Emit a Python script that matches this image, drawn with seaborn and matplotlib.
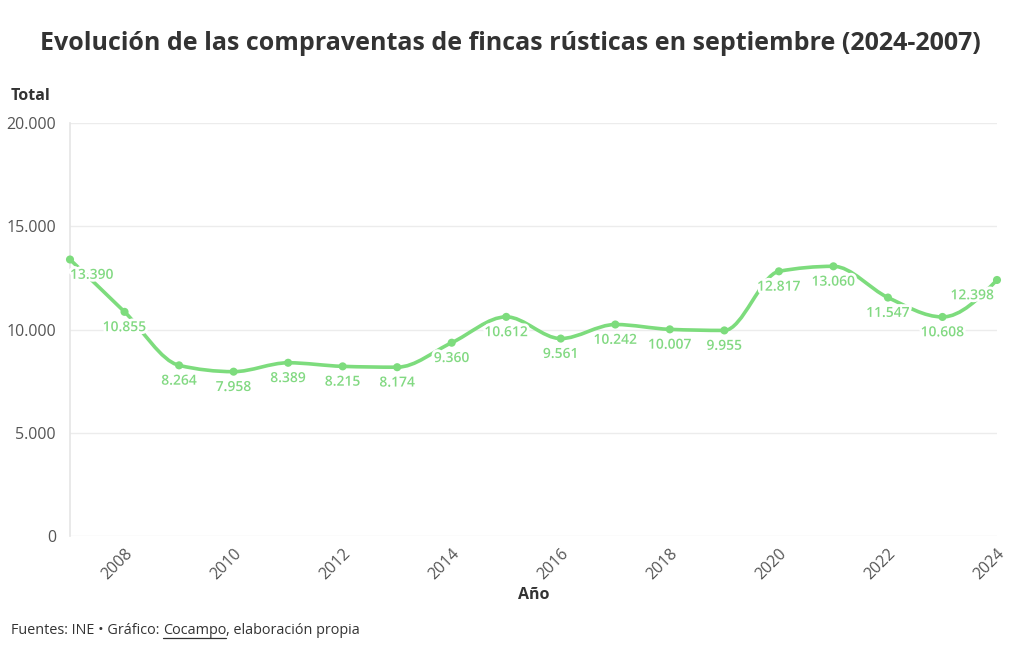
import matplotlib
matplotlib.use("Agg")
import matplotlib.pyplot as plt
import matplotlib.patheffects as pe
from matplotlib.path import Path
from matplotlib.patches import PathPatch
from matplotlib.ticker import FuncFormatter
import seaborn as sns
import numpy as np
import pandas as pd

# Compraventas de fincas rústicas en septiembre
years = [2007, 2008, 2009, 2010, 2011, 2012, 2013, 2014, 2015,
         2016, 2017, 2018, 2019, 2020, 2021, 2022, 2023, 2024]
totals = [13390, 10855, 8264, 7958, 8389, 8215, 8174, 9360, 10612,
          9561, 10242, 10007, 9955, 12817, 13060, 11547, 10608, 12398]
y_ticks = [0, 5000, 10000, 15000, 20000]
x_ticks = list(range(2008, 2025, 2))

df = pd.DataFrame({"Año": years, "Total": totals})

GREEN = "#7ddc7d"
LABEL_GREEN = "#82d982"
DARK = "#333333"
GREY = "#555555"


def fmt(v):
    return f"{int(v):,}".replace(",", ".")


def monotone_slopes(x, y):
    # same rule as d3.curveMonotoneX
    x = np.asarray(x, float)
    y = np.asarray(y, float)
    n = len(x)
    t = np.zeros(n)
    for i in range(1, n - 1):
        h0, h1 = x[i] - x[i - 1], x[i + 1] - x[i]
        s0, s1 = (y[i] - y[i - 1]) / h0, (y[i + 1] - y[i]) / h1
        p = (s0 * h1 + s1 * h0) / (h0 + h1)
        t[i] = (np.sign(s0) + np.sign(s1)) * min(abs(s0), abs(s1), 0.5 * abs(p))
    h = x[1] - x[0]
    t[0] = (3 * (y[1] - y[0]) / h - t[1]) / 2
    h = x[-1] - x[-2]
    t[-1] = (3 * (y[-1] - y[-2]) / h - t[-2]) / 2
    return t


sns.set_theme(style="white")
plt.rcParams["font.family"] = ["Open Sans", "DejaVu Sans"]

fig = plt.figure(figsize=(10.2, 6.5), dpi=100)
ax = fig.add_axes([70 / 1020, 1 - 536 / 650, 927 / 1020, 413 / 650])

# smooth curve built as cubic bezier segments through the data points
slopes = monotone_slopes(years, totals)
verts = [(years[0], totals[0])]
codes = [Path.MOVETO]
for i in range(len(years) - 1):
    h = (years[i + 1] - years[i]) / 3
    verts += [(years[i] + h, totals[i] + slopes[i] * h),
              (years[i + 1] - h, totals[i + 1] - slopes[i + 1] * h),
              (years[i + 1], totals[i + 1])]
    codes += [Path.CURVE4] * 3
ax.add_patch(PathPatch(Path(verts, codes), facecolor="none", edgecolor=GREEN,
                       linewidth=2.6, capstyle="round", zorder=2, clip_on=False))

sns.scatterplot(data=df, x="Año", y="Total", ax=ax, color=GREEN, s=34,
                edgecolor="none", zorder=3, legend=False, clip_on=False)

# value labels under each point, with white halo
for i, (yr, v) in enumerate(zip(years, totals)):
    ha = "center"
    dx = 0
    if i == 0:
        ha, dx = "left", 0
    elif i == len(years) - 1:
        ha, dx = "right", -2
    ax.annotate(fmt(v), (yr, v), xytext=(dx, -6), textcoords="offset points",
                ha=ha, va="top", fontsize=10, fontweight="semibold",
                color=LABEL_GREEN, zorder=4,
                path_effects=[pe.withStroke(linewidth=4, foreground="white")])

ax.set_xlim(2007, 2024)
ax.set_ylim(0, 20000)
ax.set_yticks(y_ticks)
ax.set_xticks(x_ticks)
ax.yaxis.set_major_formatter(FuncFormatter(lambda v, p: fmt(v)))
ax.grid(axis="y", color="#ececec", linewidth=1)
ax.grid(axis="x", visible=False)
for side in ["top", "right", "bottom"]:
    ax.spines[side].set_visible(False)
ax.spines["left"].set_color("#e6e6e6")
ax.tick_params(axis="y", length=6, color="#e6e6e6", labelsize=11.5,
               labelcolor=GREY, pad=4)
ax.tick_params(axis="x", length=5, color="#e6e6e6", labelsize=11.5,
               labelcolor=GREY, pad=2)
plt.setp(ax.get_xticklabels(), rotation=45, ha="right", rotation_mode="anchor")
ax.set_xlabel("")
ax.set_ylabel("")

fig.text(0.5, 1 - 44 / 650, "Evolución de las compraventas de fincas rústicas en septiembre (2024-2007)",
         ha="center", va="center", fontsize=18, fontweight="bold", color=DARK)
fig.text(11 / 1020, 1 - 96 / 650, "Total", ha="left", va="center",
         fontsize=11.5, fontweight="bold", color=DARK)
fig.text(534 / 1020, 1 - 595 / 650, "Año", ha="center", va="center",
         fontsize=11.5, fontweight="bold", color=DARK)

# footer with underlined source link
fig.canvas.draw()
renderer = fig.canvas.get_renderer()
fy = 1 - 631 / 650
x0 = 11 / 1020
parts = ["Fuentes: INE • Gráfico: ", "Cocampo", ", elaboración propia"]
for j, part in enumerate(parts):
    t = fig.text(x0, fy, part, ha="left", va="center", fontsize=10.4, color=DARK)
    bb = t.get_window_extent(renderer)
    if j == 1:
        uy = bb.y0 / 650 + 0.5 / 650
        fig.add_artist(plt.Line2D([bb.x0 / 1020, bb.x1 / 1020], [uy, uy],
                                  color=DARK, linewidth=0.9))
    x0 = bb.x1 / 1020

fig.savefig("out.png", dpi=100, facecolor="white")
